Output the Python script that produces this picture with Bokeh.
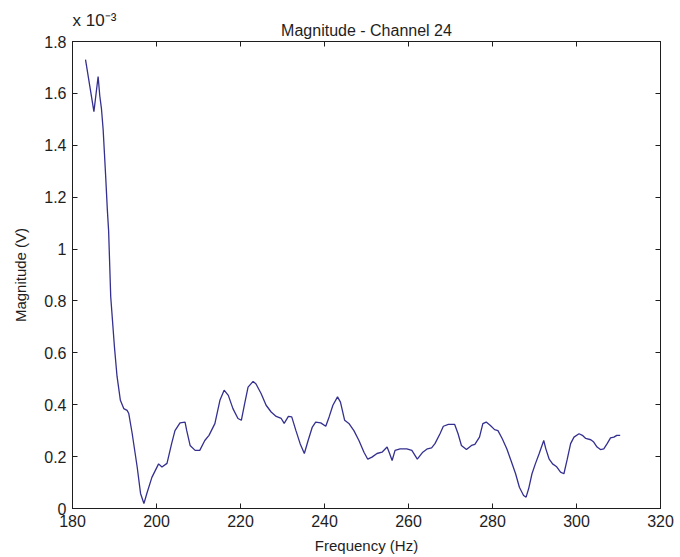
from bokeh.plotting import figure
from bokeh.models import LinearAxis, FixedTicker, Range1d, CustomJSTickFormatter, Title
from bokeh.embed import file_html
from bokeh.resources import INLINE

# Frequency (Hz)
freq = [183.1, 185.1, 186.1, 186.5, 186.9, 187.3, 187.6, 187.9, 188.3, 188.6,
        189.1, 190.0, 190.6, 191.4, 192.2, 193.0, 193.4, 194.2, 195.4, 196.2,
        197.0, 197.7, 198.9, 200.5, 201.3, 202.5, 203.6, 204.4, 205.6, 206.8,
        207.2, 208.0, 209.2, 210.3, 211.5, 212.5, 213.9, 215.1, 216.1, 217.1,
        218.2, 219.4, 220.2, 221.0, 221.8, 223.0, 223.7, 224.9, 226.1, 227.3,
        228.5, 229.7, 230.4, 231.4, 232.2, 233.2, 234.2, 235.2, 236.1, 237.1,
        237.9, 239.1, 240.3, 241.1, 242.0, 243.1, 243.8, 244.8, 245.8, 247.0,
        248.2, 249.4, 250.3, 251.3, 252.5, 253.7, 254.9, 255.5, 256.1, 256.8,
        258.0, 259.6, 260.8, 262.1, 263.4, 264.5, 265.5, 266.3, 267.5, 268.3,
        269.5, 271.0, 271.8, 272.6, 273.8, 275.0, 275.8, 276.9, 277.7, 278.5,
        279.5, 280.5, 281.3, 282.3, 283.4, 284.4, 285.5, 286.4, 287.4, 288.0,
        288.6, 289.4, 290.2, 291.1, 292.2, 292.7, 293.5, 294.3, 295.2, 296.2,
        297.0, 297.8, 298.6, 299.4, 300.6, 301.4, 302.2, 303.4, 304.1, 304.9,
        305.7, 306.5, 307.3, 308.1, 308.9, 309.6, 310.4]

# Magnitude in units of 1e-3 V
magnitude = [1.73, 1.53, 1.665, 1.59, 1.54, 1.46, 1.37, 1.28, 1.15, 1.07,
             0.816, 0.62, 0.51, 0.417, 0.385, 0.378, 0.366, 0.29, 0.16, 0.058,
             0.019, 0.058, 0.12, 0.172, 0.16, 0.174, 0.25, 0.30, 0.33, 0.333,
             0.30, 0.243, 0.224, 0.224, 0.262, 0.282, 0.327, 0.417, 0.456, 0.436,
             0.385, 0.347, 0.34, 0.405, 0.468, 0.49, 0.48, 0.443, 0.398, 0.372,
             0.355, 0.347, 0.328, 0.355, 0.353, 0.30, 0.25, 0.212, 0.262, 0.314,
             0.333, 0.33, 0.317, 0.353, 0.398, 0.43, 0.41, 0.34, 0.328, 0.30,
             0.262, 0.217, 0.19, 0.198, 0.212, 0.217, 0.237, 0.212, 0.185, 0.224,
             0.23, 0.23, 0.224, 0.19, 0.217, 0.23, 0.234, 0.25, 0.288, 0.317,
             0.324, 0.324, 0.288, 0.243, 0.227, 0.243, 0.247, 0.275, 0.327, 0.333,
             0.32, 0.304, 0.30, 0.27, 0.23, 0.185, 0.134, 0.082, 0.05, 0.044,
             0.076, 0.134, 0.172, 0.211, 0.262, 0.23, 0.19, 0.172, 0.162, 0.14,
             0.134, 0.19, 0.25, 0.275, 0.288, 0.282, 0.27, 0.265, 0.256, 0.237,
             0.227, 0.23, 0.25, 0.272, 0.275, 0.282, 0.282]

x_ticks = [180, 200, 220, 240, 260, 280, 300, 320]
y_ticks = [0, 0.2, 0.4, 0.6, 0.8, 1.0, 1.2, 1.4, 1.6, 1.8]
y_tick_labels = ["0", "0.2", "0.4", "0.6", "0.8", "1", "1.2", "1.4", "1.6", "1.8"]
y_multiplier = "x 10\u207b\u00b3"

FONT = "Liberation Sans"
TXT = "#1e1e1e"

p = figure(width=680, height=557, output_backend="svg", toolbar_location=None,
           x_range=Range1d(180, 320), y_range=Range1d(0, 1.8),
           min_border_left=72, min_border_right=20, min_border_top=41,
           min_border_bottom=49, x_axis_location=None, y_axis_location=None)
p.xgrid.visible = False
p.ygrid.visible = False
p.outline_line_color = "#1e1e1e"
p.background_fill_color = "white"
p.border_fill_color = "white"

p.line(freq, magnitude, line_color="#34308f", line_width=1.3)

def style(ax):
    ax.axis_line_color = "#1e1e1e"
    ax.major_tick_in = 5
    ax.major_tick_out = 0
    ax.minor_tick_line_color = None
    ax.major_tick_line_color = "#1e1e1e"
    ax.major_label_text_font = FONT
    ax.major_label_text_font_size = "16px"
    ax.major_label_text_color = TXT
    ax.axis_label_text_font = FONT
    ax.axis_label_text_font_size = "15px"
    ax.axis_label_text_font_style = "normal"
    ax.axis_label_text_color = TXT

xb = LinearAxis(ticker=FixedTicker(ticks=x_ticks), axis_label="Frequency (Hz)")
style(xb)
xb.major_label_standoff = 6
xb.axis_label_standoff = 7
p.add_layout(xb, "below")

yl = LinearAxis(ticker=FixedTicker(ticks=y_ticks), axis_label="Magnitude (V)")
yl.major_label_overrides = {t: s for t, s in zip(y_ticks, y_tick_labels)}
style(yl)
yl.major_label_standoff = 6
yl.axis_label_standoff = 12
p.add_layout(yl, "left")

blank = CustomJSTickFormatter(code="return ''")
xt = LinearAxis(ticker=FixedTicker(ticks=x_ticks), formatter=blank,
                axis_label="Magnitude - Channel 24")
style(xt)
xt.axis_label_text_font_size = "16px"
xt.major_label_standoff = 0
xt.axis_label_standoff = 3
p.add_layout(xt, "above")
yr = LinearAxis(ticker=FixedTicker(ticks=y_ticks), formatter=blank)
style(yr)
yr.major_label_standoff = 0
p.add_layout(yr, "right")

mult = Title(text=y_multiplier, align="left", text_font=FONT,
             text_font_size="17px", text_font_style="normal",
             text_color=TXT, standoff=-22)
p.add_layout(mult, "above")

open("out.html", "w").write(file_html(p, INLINE))
